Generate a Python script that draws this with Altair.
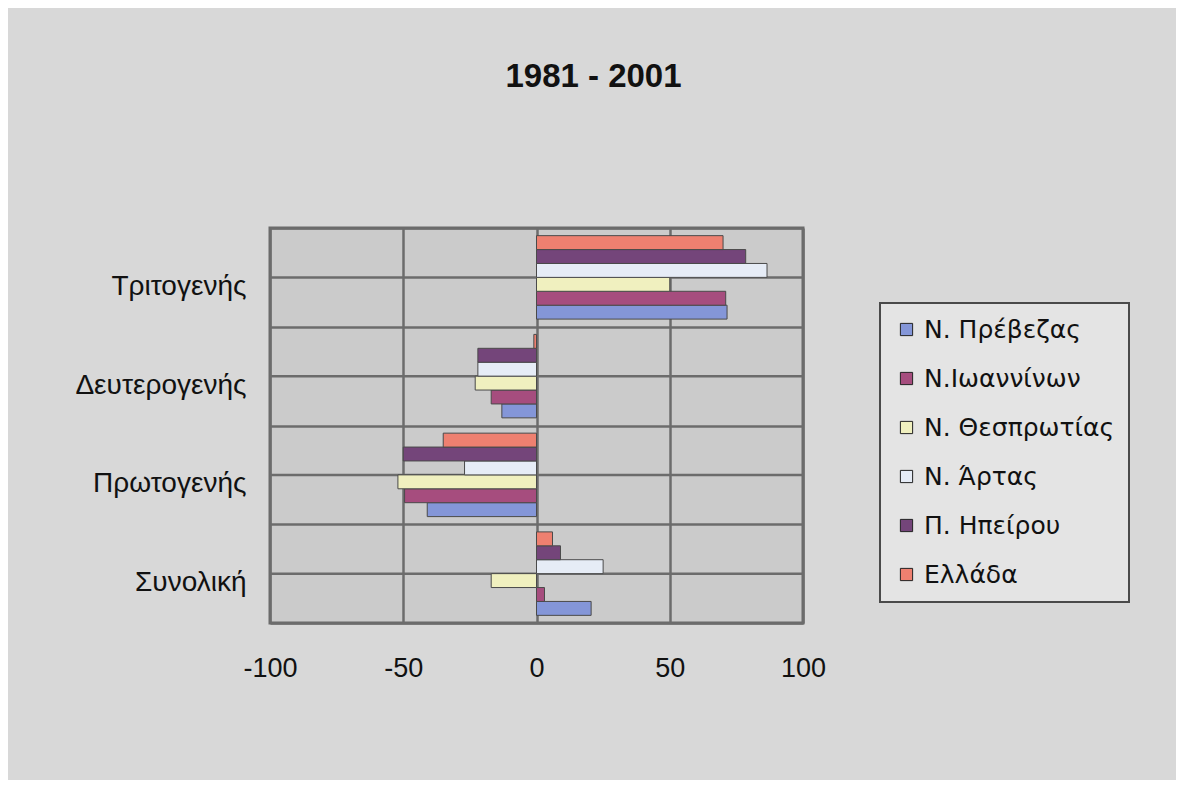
import altair as alt
import pandas as pd

# ---- data ----
categories = ["Τριτογενής", "Δευτερογενής", "Πρωτογενής", "Συνολική"]
series = ["Ν. Πρέβεζας", "Ν.Ιωαννίνων", "Ν. Θεσπρωτίας", "Ν. Άρτας", "Π. Ηπείρου", "Ελλάδα"]

prevezas = [71.5, -13, -41, 20.5]
ioanninon = [71, -17, -49.5, 3]
thesprotias = [50, -23, -52, -17]
artas = [86.5, -22, -27, 25]
ipeirou = [78.5, -22, -50, 9]
ellada = [70, -1, -35, 6]

colors = ["#8496d8", "#a64d7e", "#f0f0bf", "#e6ecf6", "#74457a", "#ee8070"]
x_ticks = [-100, -50, 0, 50, 100]
title_text = "1981 - 2001"

values_by_series = [prevezas, ioanninon, thesprotias, artas, ipeirou, ellada]
rows = []
for ci, cat in enumerate(categories):
    for s, vals in zip(series, values_by_series):
        rows.append({"Τομέας": cat, "Περιοχή": s, "Μεταβολή": vals[ci]})
df = pd.DataFrame(rows)
cat_df = pd.DataFrame({"Τομέας": categories})

W, H = 533, 395
GRID = "#6c6c6c"
FONT = "Liberation Sans, Arial, sans-serif"
LEG_FONT = "DejaVu Sans, Verdana, sans-serif"

y_scale = alt.Scale(domain=categories, paddingInner=0, paddingOuter=0)
x_scale = alt.Scale(domain=[-100, 100], nice=False, zero=False)

y_axis = alt.Axis(
    title=None, tickBand="extent", grid=True, gridColor=GRID, gridWidth=2.5,
    gridOpacity=1, domain=False, ticks=False, labelFontSize=28, labelFont=FONT,
    labelColor="#111111", labelPadding=24, labelOffset=9,
)
x_axis = alt.Axis(
    title=None, values=x_ticks, grid=True, gridColor=GRID, gridWidth=2.5,
    gridOpacity=1, domain=False, ticks=False, labelFontSize=27, labelFont=FONT,
    labelColor="#111111", labelPadding=32, labelExpr="'' + datum.value",
    labelFlush=False,
)

mid_lines = alt.Chart(cat_df).mark_rule(color=GRID, strokeWidth=2.5).encode(
    y=alt.Y("Τομέας:N", scale=y_scale, axis=y_axis, sort=categories),
    x=alt.datum(-100, scale=x_scale),
    x2=alt.datum(100),
)

bars = alt.Chart(df).mark_bar(stroke="#4a4a4a", strokeWidth=1).encode(
    y=alt.Y("Τομέας:N", scale=y_scale, axis=y_axis, sort=categories),
    yOffset=alt.YOffset("Περιοχή:N", sort=list(reversed(series)),
                        scale=alt.Scale(paddingInner=0, paddingOuter=0.55)),
    x=alt.X("Μεταβολή:Q", scale=x_scale, axis=x_axis),
    color=alt.Color(
        "Περιοχή:N", sort=series,
        scale=alt.Scale(domain=series, range=colors),
        legend=alt.Legend(
            title=None, orient="none", legendX=610, legendY=75,
            symbolType="square", symbolSize=150, symbolStrokeColor="#222222",
            symbolStrokeWidth=1, labelFontSize=25, labelFont=LEG_FONT,
            labelColor="#111111", rowPadding=23, labelOffset=5,
            padding=14, fillColor="#e4e4e4", strokeColor="#4a4a4a",
            labelLimit=400,
        ),
    ),
)

chart = alt.layer(mid_lines, bars).properties(
    width=W, height=H,
    title=alt.TitleParams(
        title_text, fontSize=33, font="Liberation Sans Narrow, Arial Narrow, Liberation Sans, Arial",
        fontWeight="bold", anchor="middle", dx=57, offset=120, color="#111111",
    ),
    autosize=alt.AutoSizeParams(type="none"),
    padding={"left": 262, "top": 220, "right": 373, "bottom": 157},
    background="#d8d8d8",
).configure_view(
    fill="#cbcbcb", stroke="#6a6a6a", strokeWidth=3,
).configure_legend(
    strokeWidth=2,
)

chart.save("out.html", embed_options={"renderer": "svg", "actions": False})
